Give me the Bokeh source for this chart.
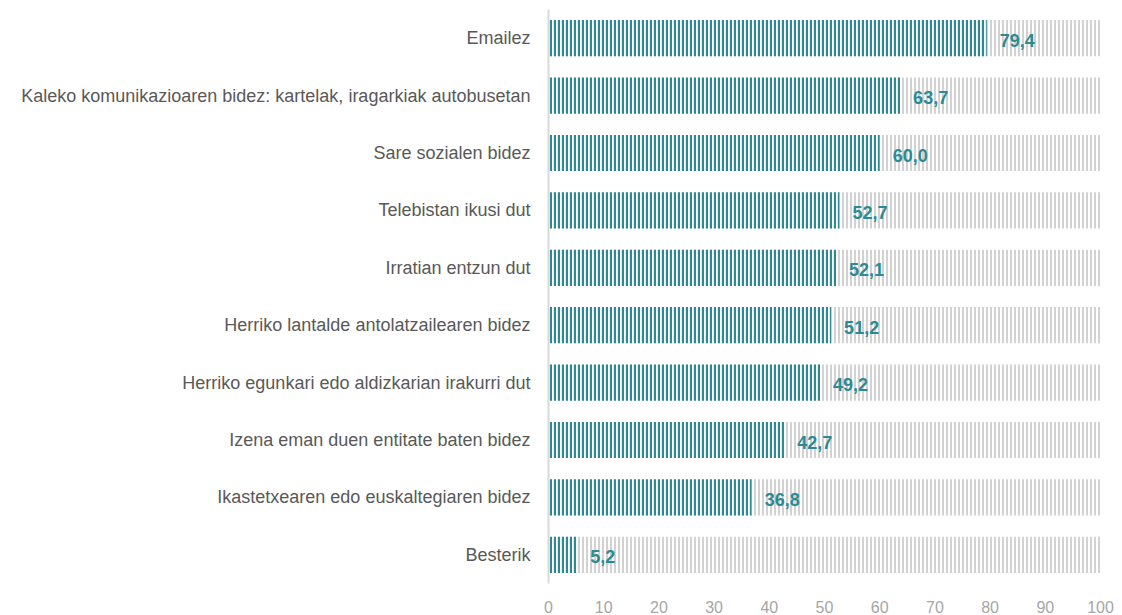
from bokeh.plotting import figure
from bokeh.models import FactorRange, ColumnDataSource, FixedTicker
from bokeh.core.properties import value
from bokeh.embed import file_html
from bokeh.resources import INLINE

categories = [
    "Emailez",
    "Kaleko komunikazioaren bidez: kartelak, iragarkiak autobusetan",
    "Sare sozialen bidez",
    "Telebistan ikusi dut",
    "Irratian entzun dut",
    "Herriko lantalde antolatzailearen bidez",
    "Herriko egunkari edo aldizkarian irakurri dut",
    "Izena eman duen entitate baten bidez",
    "Ikastetxearen edo euskaltegiaren bidez",
    "Besterik",
]
values = [79.4, 63.7, 60.0, 52.7, 52.1, 51.2, 49.2, 42.7, 36.8, 5.2]
full_scale = [100] * len(categories)
x_ticks = [0, 10, 20, 30, 40, 50, 60, 70, 80, 90, 100]

TEAL = "#2b8a93"
GREY = "#d2d2d2"
FONT = "Liberation Sans"

labels = [f"{v:.1f}".replace(".", ",") for v in values]
src = ColumnDataSource(dict(cat=categories, val=values, full=full_scale, lab=labels))

p = figure(
    y_range=FactorRange(factors=list(reversed(categories))),
    x_range=(0, 100),
    frame_width=552, frame_height=574,
    min_border_left=548, min_border_right=14, min_border_top=9, min_border_bottom=0,
    output_backend="svg", toolbar_location=None,
)

p.hbar(y="cat", left=0, right="full", height=0.63, source=src,
       fill_color="white", line_color=None,
       hatch_pattern="vertical_line", hatch_color=GREY, hatch_weight=2.0, hatch_scale=4)
p.hbar(y="cat", left=0, right="val", height=0.63, source=src,
       fill_color="white", line_color=None,
       hatch_pattern="vertical_line", hatch_color=TEAL, hatch_weight=2.3, hatch_scale=4)

p.text(x="val", y="cat", text="lab", source=src, x_offset=13, y_offset=2,
       text_align="left", text_baseline="middle",
       text_font=value(FONT), text_font_style="bold", text_font_size="18px",
       text_color=TEAL)

p.xgrid.visible = False
p.ygrid.visible = False
p.outline_line_color = None

p.xaxis.ticker = FixedTicker(ticks=x_ticks)
p.xaxis.axis_line_color = None
p.xaxis.major_tick_line_color = None
p.xaxis.minor_tick_line_color = None
p.xaxis.major_label_standoff = 11
p.xaxis.major_label_text_font = FONT
p.xaxis.major_label_text_font_size = "16px"
p.xaxis.major_label_text_color = "#a6a6a6"

p.yaxis.axis_line_color = "#d9d9d9"
p.yaxis.axis_line_width = 2
p.yaxis.major_tick_line_color = None
p.yaxis.minor_tick_line_color = None
p.yaxis.major_label_standoff = 12
p.yaxis.major_label_text_font = FONT
p.yaxis.major_label_text_font_size = "18px"
p.yaxis.major_label_text_color = "#595959"

open("out.html", "w").write(file_html(p, INLINE))
